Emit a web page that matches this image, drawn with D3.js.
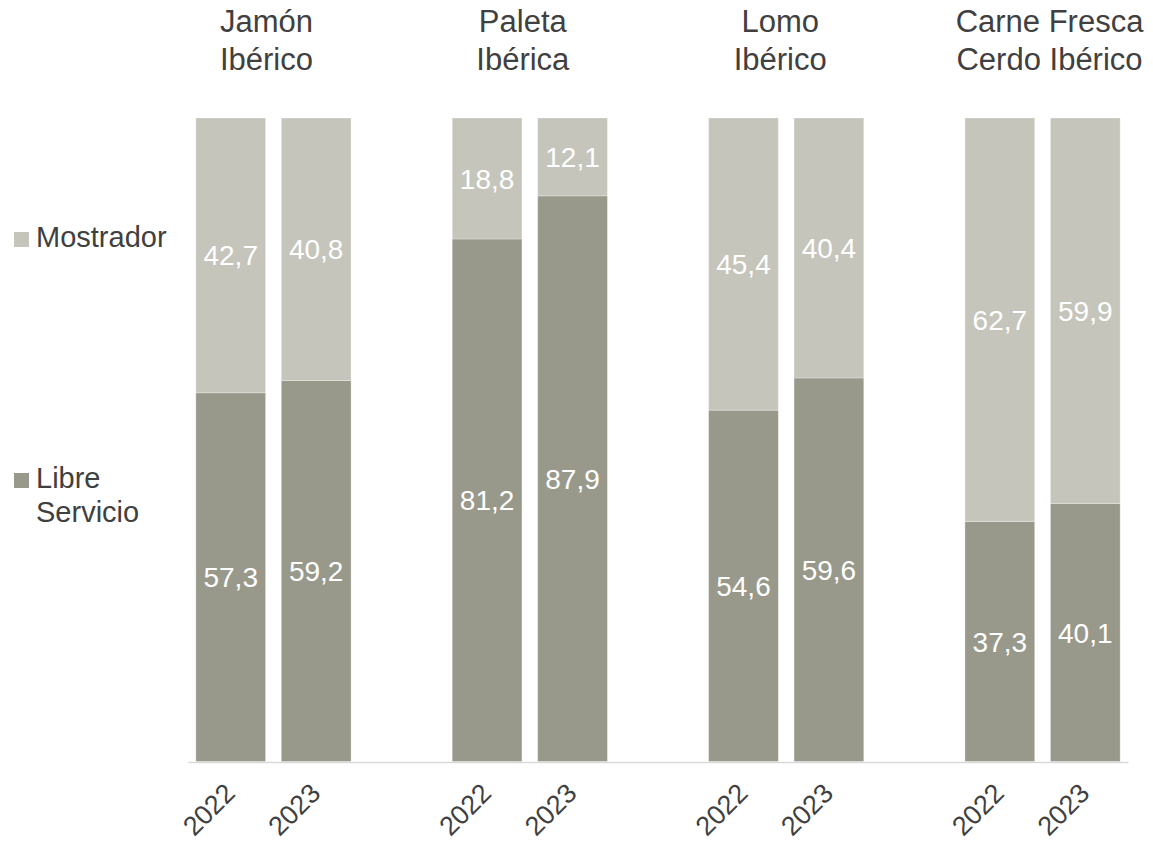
<!DOCTYPE html>
<html>
<head>
<meta charset="utf-8">
<script src="https://cdn.jsdelivr.net/npm/d3@7"></script>
<style>
    body { margin: 0; background: #fff; }
    #chart { width: 1153px; height: 847px; }
    text { font-family: Arial, "Liberation Sans", sans-serif; }
</style>
</head>
<body>
<div id="chart"></div>
<script>
// Data
var groups = [["Jamón", "Ibérico"], ["Paleta", "Ibérica"], ["Lomo", "Ibérico"], ["Carne Fresca", "Cerdo Ibérico"]];
var years = ["2022", "2023"];
var libreServicio = [57.3, 59.2, 81.2, 87.9, 54.6, 59.6, 37.3, 40.1];
var mostrador = [42.7, 40.8, 18.8, 12.1, 45.4, 40.4, 62.7, 59.9];
var seriesNames = ["Libre Servicio", "Mostrador"];

class StackedChart {
    constructor(div) {
        var viz = this;
        viz.div = d3.select(div);
        viz.width = 1153;
        viz.height = 847;

        viz.svg = viz.div.append("svg")
            .attr("width", viz.width)
            .attr("height", viz.height);

        viz.colors = { "Libre Servicio": "#98998a", "Mostrador": "#c5c5bc" };
        viz.textColor = "#404040";

        // blank categories between the groups, like the Excel sheet
        viz.categories = [];
        groups.forEach(function(g, gi) {
            if (gi > 0) viz.categories.push("gap" + gi);
            years.forEach(function(y) { viz.categories.push(gi + "-" + y); });
        });

        viz.rows = [];
        groups.forEach(function(g, gi) {
            years.forEach(function(y, yi) {
                var i = gi * years.length + yi;
                viz.rows.push({ key: gi + "-" + y, group: gi, year: y,
                    "Libre Servicio": libreServicio[i], "Mostrador": mostrador[i] });
            });
        });

        viz.x = d3.scaleBand()
            .domain(viz.categories)
            .range([188, 1128])
            .paddingInner(0.184)
            .paddingOuter(0.092);

        viz.y = d3.scaleLinear()
            .domain([0, 100])
            .range([761.5, 118]);

        viz.draw();
    }

    draw() {
        var viz = this;
        var stack = d3.stack().keys(seriesNames)(viz.rows);

        var layer = viz.svg.selectAll("g.layer")
            .data(stack)
            .enter().append("g")
            .attr("class", "layer")
            .attr("fill", function(d) { return viz.colors[d.key]; });

        layer.selectAll("rect")
            .data(function(d) { return d; })
            .enter().append("rect")
            .attr("x", function(d) { return viz.x(d.data.key); })
            .attr("y", function(d) { return viz.y(d[1]); })
            .attr("width", viz.x.bandwidth())
            .attr("height", function(d) { return viz.y(d[0]) - viz.y(d[1]); })
            .attr("stroke", "#ffffff")
            .attr("stroke-opacity", 0.35)
            .attr("stroke-width", 0.8);

        // value labels
        layer.selectAll("text")
            .data(function(d) { return d; })
            .enter().append("text")
            .attr("x", function(d) { return viz.x(d.data.key) + viz.x.bandwidth() / 2; })
            .attr("y", function(d) { return (viz.y(d[0]) + viz.y(d[1])) / 2; })
            .attr("dy", "0.36em")
            .attr("text-anchor", "middle")
            .attr("fill", "#ffffff")
            .style("font-size", "28px")
            .text(function(d) { return d3.format(".1f")(d[1] - d[0]).replace(".", ","); });

        // axis line
        var xAxis = d3.axisBottom(viz.x).tickSize(0).tickFormat("");
        var axisG = viz.svg.append("g")
            .attr("transform", "translate(0," + 762 + ")")
            .call(xAxis);
        axisG.select(".domain").attr("stroke", "#d9d9d9").attr("stroke-width", 1.5);

        // rotated year labels
        viz.svg.selectAll("text.year")
            .data(viz.rows)
            .enter().append("text")
            .attr("class", "year")
            .attr("text-anchor", "end")
            .attr("dy", "0.36em")
            .attr("transform", function(d) {
                return "translate(" + (viz.x(d.key) + viz.x.bandwidth() / 2 - 1) + ",788) rotate(-45)";
            })
            .attr("fill", viz.textColor)
            .style("font-size", "27px")
            .text(function(d) { return d.year; });

        viz.drawTitles(viz);
        viz.drawLegend(viz);
    }

    drawTitles(viz) {
        var shift = [-7, -7, -6, 7];
        groups.forEach(function(g, gi) {
            var cx = (viz.x(gi + "-" + years[0]) + viz.x(gi + "-" + years[1]) + viz.x.bandwidth()) / 2 + shift[gi];
            var t = viz.svg.append("text")
                .attr("text-anchor", "middle")
                .attr("fill", viz.textColor)
                .style("font-size", "31px");
            g.forEach(function(line, li) {
                t.append("tspan").attr("x", cx).attr("y", 32 + li * 38).text(line);
            });
        });
    }

    drawLegend(viz) {
        var items = [
            { name: "Mostrador", lines: ["Mostrador"], y: 247 },
            { name: "Libre Servicio", lines: ["Libre", "Servicio"], y: 488 }
        ];
        items.forEach(function(it) {
            viz.svg.append("rect")
                .attr("x", 14).attr("y", it.y - 15)
                .attr("width", 15).attr("height", 15)
                .attr("fill", viz.colors[it.name]);
            var t = viz.svg.append("text")
                .attr("fill", viz.textColor)
                .style("font-size", "29px");
            it.lines.forEach(function(line, li) {
                t.append("tspan").attr("x", 36).attr("y", it.y + li * 34).text(line);
            });
        });
    }
}

new StackedChart("#chart");
</script>
</body>
</html>
